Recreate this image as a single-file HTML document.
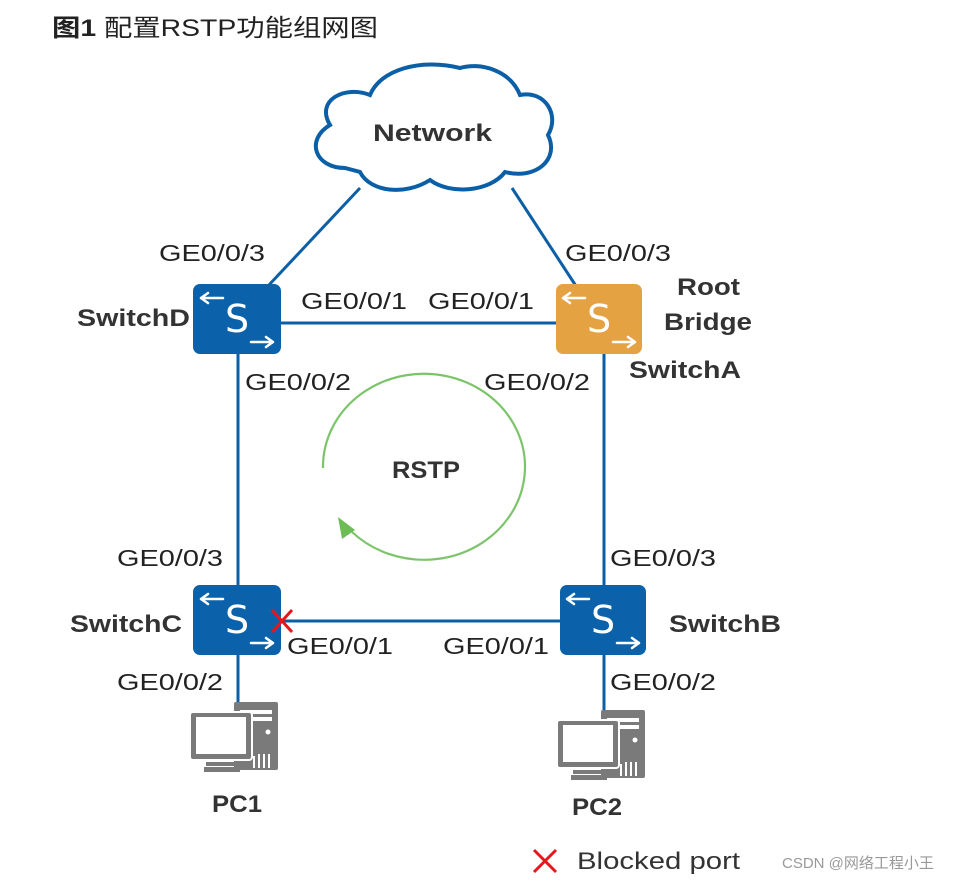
<!DOCTYPE html>
<html><head><meta charset="utf-8"><style>
html,body{margin:0;padding:0;background:#fff}
svg text{font-family:"Liberation Sans","Noto Sans CJK SC",sans-serif}
</style></head><body>
<svg width="969" height="881" viewBox="0 0 969 881" xmlns="http://www.w3.org/2000/svg">
<defs>
<g id="sw">
 <path d="M8 14 H30 M8 14 l7 -5 M8 14 l7 5" stroke="#fff" stroke-width="2.5" fill="none" stroke-linecap="round"/>
 <path d="M58 58 H80 M80 58 l-7 -5 M80 58 l-7 5" stroke="#fff" stroke-width="2.5" fill="none" stroke-linecap="round"/>
 <text x="44" y="48" font-size="38" fill="#fff" text-anchor="middle" style="font-family:'DejaVu Sans',sans-serif">S</text>
</g>
<g id="pc">
 <rect x="44" y="0" width="44" height="68" rx="2" fill="#7a7a7a"/>
 <rect x="50" y="8" width="32" height="4" fill="#fff"/>
 <rect x="50" y="15" width="32" height="4" fill="#fff"/>
 <circle cx="78" cy="30" r="2.5" fill="#fff"/>
 <rect x="0" y="10" width="62" height="48" rx="3" fill="#7a7a7a" stroke="#fff" stroke-width="2"/>
 <rect x="6" y="15" width="50" height="37" fill="#fff"/>
 <rect x="16" y="60" width="30" height="4" fill="#7a7a7a"/>
 <rect x="14" y="65" width="36" height="5" fill="#7a7a7a"/>
 <path d="M64 66 V54 M69 66 V52 M74 66 V52 M79 66 V52" stroke="#fff" stroke-width="2"/>
</g>
</defs>
<text x="52" y="36" font-size="24" fill="#222" textLength="326" lengthAdjust="spacingAndGlyphs"><tspan font-weight="bold">图1</tspan> 配置RSTP功能组网图</text>

<g stroke="#0b5fa6" stroke-width="3" fill="none">
 <line x1="360" y1="188" x2="268" y2="286"/>
 <line x1="512" y1="188" x2="576" y2="286"/>
 <line x1="281" y1="323" x2="557" y2="323"/>
 <line x1="238" y1="354" x2="238" y2="586"/>
 <line x1="604" y1="354" x2="604" y2="586"/>
 <line x1="281" y1="621" x2="560" y2="621"/>
 <line x1="238" y1="654" x2="238" y2="712"/>
 <line x1="604" y1="654" x2="604" y2="716"/>
</g>

<path d="M345 168 C315 168 305 140 330 125 C315 100 345 85 370 95 C380 70 420 58 460 68 C480 62 510 70 520 95 C545 90 560 115 548 135 C560 160 535 180 505 172 C490 192 450 195 430 180 C405 196 370 192 360 172 Z" fill="#fff" stroke="#0b5fa6" stroke-width="4"/>
<text x="373" y="141" font-size="24" font-weight="bold" fill="#333" textLength="119" lengthAdjust="spacingAndGlyphs">Network</text>

<rect x="193" y="284" width="88" height="70" rx="7" fill="#0b62aa"/>
<use href="#sw" x="193" y="284"/>
<rect x="556" y="284" width="86" height="70" rx="7" fill="#e5a243"/>
<use href="#sw" x="555" y="284"/>
<rect x="193" y="585" width="88" height="70" rx="7" fill="#0b62aa"/>
<use href="#sw" x="193" y="585"/>
<rect x="560" y="585" width="86" height="70" rx="7" fill="#0b62aa"/>
<use href="#sw" x="559" y="585"/>

<path d="M272 610 L292 632 M292 610 L272 632" stroke="#e8161b" stroke-width="3"/>

<use href="#pc" x="190" y="702"/>
<use href="#pc" x="557" y="710"/>

<path d="M323 468 A101 93 0 1 1 352 532" fill="none" stroke="#7cc46a" stroke-width="2.2"/>
<polygon points="338,517 355,530 342,539" fill="#6cbd55"/>
<text x="392" y="478" font-size="24" font-weight="bold" fill="#333" textLength="68" lengthAdjust="spacingAndGlyphs">RSTP</text>

<g font-size="23" fill="#222" lengthAdjust="spacingAndGlyphs">
 <text x="159" y="261" textLength="106" lengthAdjust="spacingAndGlyphs">GE0/0/3</text>
 <text x="565" y="261" textLength="106" lengthAdjust="spacingAndGlyphs">GE0/0/3</text>
 <text x="301" y="309" textLength="106" lengthAdjust="spacingAndGlyphs">GE0/0/1</text>
 <text x="428" y="309" textLength="106" lengthAdjust="spacingAndGlyphs">GE0/0/1</text>
 <text x="245" y="390" textLength="106" lengthAdjust="spacingAndGlyphs">GE0/0/2</text>
 <text x="484" y="390" textLength="106" lengthAdjust="spacingAndGlyphs">GE0/0/2</text>
 <text x="117" y="566" textLength="106" lengthAdjust="spacingAndGlyphs">GE0/0/3</text>
 <text x="610" y="566" textLength="106" lengthAdjust="spacingAndGlyphs">GE0/0/3</text>
 <text x="287" y="654" textLength="106" lengthAdjust="spacingAndGlyphs">GE0/0/1</text>
 <text x="443" y="654" textLength="106" lengthAdjust="spacingAndGlyphs">GE0/0/1</text>
 <text x="117" y="690" textLength="106" lengthAdjust="spacingAndGlyphs">GE0/0/2</text>
 <text x="610" y="690" textLength="106" lengthAdjust="spacingAndGlyphs">GE0/0/2</text>
</g>
<g font-size="24" font-weight="bold" fill="#333">
 <text x="77" y="326" textLength="113" lengthAdjust="spacingAndGlyphs">SwitchD</text>
 <text x="677" y="295" textLength="63" lengthAdjust="spacingAndGlyphs">Root</text>
 <text x="664" y="330" textLength="88" lengthAdjust="spacingAndGlyphs">Bridge</text>
 <text x="629" y="378" textLength="112" lengthAdjust="spacingAndGlyphs">SwitchA</text>
 <text x="70" y="632" textLength="112" lengthAdjust="spacingAndGlyphs">SwitchC</text>
 <text x="669" y="632" textLength="112" lengthAdjust="spacingAndGlyphs">SwitchB</text>
 <text x="212" y="812" textLength="50" lengthAdjust="spacingAndGlyphs">PC1</text>
 <text x="572" y="815" textLength="50" lengthAdjust="spacingAndGlyphs">PC2</text>
</g>
<path d="M534 850 L556 872 M556 850 L534 872" stroke="#e8161b" stroke-width="3"/>
<text x="577" y="869" font-size="24" fill="#333" textLength="163" lengthAdjust="spacingAndGlyphs">Blocked port</text>
<text x="782" y="868" font-size="15" fill="#999">CSDN @网络工程小王</text>
</svg>
</body></html>
